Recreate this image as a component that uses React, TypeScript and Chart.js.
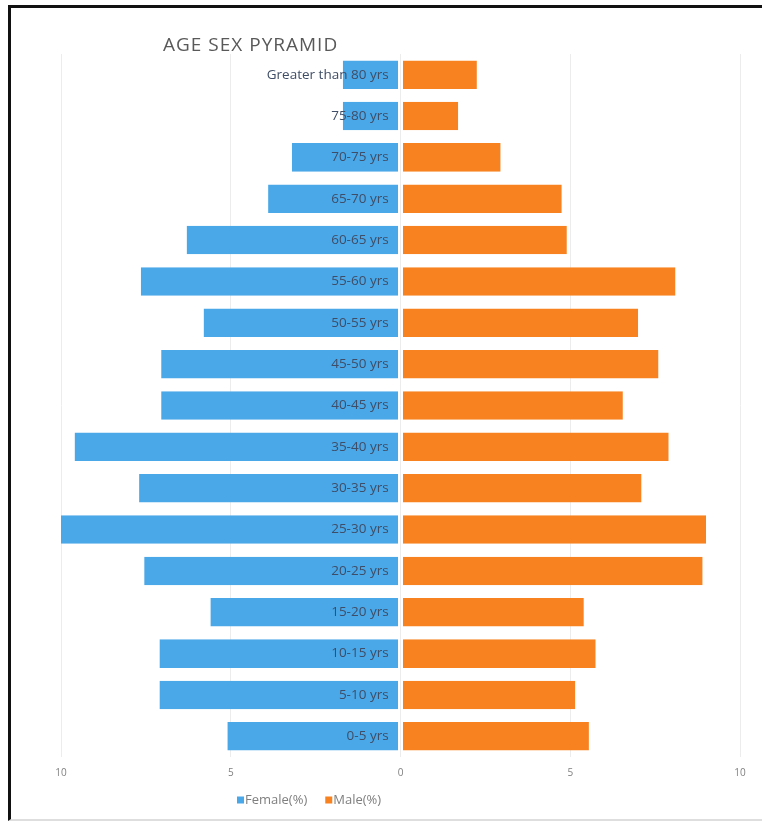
import React, { useEffect, useRef } from "react";
import { Chart, registerables } from "chart.js";

Chart.register(...registerables);

// Age groups, youngest first (drawn bottom to top)
const ageGroups: string[] = [
  "0-5 yrs",
  "5-10 yrs",
  "10-15 yrs",
  "15-20 yrs",
  "20-25 yrs",
  "25-30 yrs",
  "30-35 yrs",
  "35-40 yrs",
  "40-45 yrs",
  "45-50 yrs",
  "50-55 yrs",
  "55-60 yrs",
  "60-65 yrs",
  "65-70 yrs",
  "70-75 yrs",
  "75-80 yrs",
  "Greater than 80 yrs",
];

// Share of population per age group, in percent
const femalePct: number[] = [5.1, 7.1, 7.1, 5.6, 7.55, 10.0, 7.7, 9.6, 7.05, 7.05, 5.8, 7.65, 6.3, 3.9, 3.2, 1.7, 1.7];
const malePct: number[] = [5.55, 5.15, 5.75, 5.4, 8.9, 9.0, 7.1, 7.9, 6.55, 7.6, 7.0, 8.1, 4.9, 4.75, 2.95, 1.7, 2.25];

// Horizontal axis ticks (shown as absolute values on both sides)
const axisMin = -10;
const axisMax = 10;
const axisStep = 5;

const chartTitle = "AGE SEX PYRAMID";
const femaleLabel = "Female(%)";
const maleLabel = "Male(%)";

const femaleColor = "#4aa8e8";
const maleColor = "#f7821f";

const titlePlugin = {
  id: "pyramidTitle",
  afterDraw(chart: Chart) {
    const { ctx } = chart;
    ctx.save();
    ctx.font = '19px "Open Sans", sans-serif';
    (ctx as any).letterSpacing = "1px";
    ctx.fillStyle = "#595959";
    ctx.textBaseline = "middle";
    ctx.textAlign = "left";
    ctx.fillText(chartTitle, 163, 46);
    ctx.restore();
  },
};

const legendPlugin = {
  id: "pyramidLegend",
  afterDraw(chart: Chart) {
    const { ctx } = chart;
    ctx.save();
    ctx.font = '13px "Open Sans", sans-serif';
    ctx.textBaseline = "middle";
    ctx.textAlign = "left";
    const y = 800;
    let x = 237;
    chart.data.datasets.forEach((ds) => {
      ctx.fillStyle = ds.backgroundColor as string;
      ctx.fillRect(x, y - 3.5, 7, 7);
      ctx.fillStyle = "#7f7f7f";
      const label = ds.label as string;
      ctx.fillText(label, x + 8, y);
      x += 8 + ctx.measureText(label).width + 18;
    });
    ctx.restore();
  },
};

export default function App() {
  const canvasRef = useRef<HTMLCanvasElement | null>(null);

  useEffect(() => {
    if (!canvasRef.current) return;
    const chart = new Chart(canvasRef.current, {
      type: "bar",
      data: {
        labels: ageGroups,
        datasets: [
          {
            label: femaleLabel,
            data: femalePct.map((v) => -v),
            backgroundColor: femaleColor,
            // thin white edge on the centre side leaves a gap between the halves
            borderColor: "#ffffff",
            borderWidth: { left: 0, right: 2, top: 0, bottom: 0 },
            borderSkipped: false,
            barPercentage: 0.69,
            categoryPercentage: 1,
          },
          {
            label: maleLabel,
            data: malePct,
            backgroundColor: maleColor,
            borderColor: "#ffffff",
            borderWidth: { left: 2, right: 0, top: 0, bottom: 0 },
            borderSkipped: false,
            barPercentage: 0.69,
            categoryPercentage: 1,
          },
        ],
      },
      plugins: [titlePlugin, legendPlugin],
      options: {
        indexAxis: "y",
        responsive: false,
        animation: false,
        layout: { padding: { left: 61, right: 22, top: 54, bottom: 32 } },
        plugins: {
          legend: { display: false },
          title: { display: false },
          tooltip: { enabled: false },
        },
        scales: {
          x: {
            stacked: true,
            min: axisMin,
            max: axisMax,
            ticks: {
              stepSize: axisStep,
              color: "#7f7f7f",
              font: { family: '"Open Sans", sans-serif', size: 10 },
              padding: 10,
              callback: (v) => String(Math.abs(Number(v))),
            },
            grid: { color: "#ececec", drawTicks: false },
            border: { display: false },
          },
          y: {
            stacked: true,
            reverse: true,
            // category labels sit just left of the centre line, over the female bars
            position: { x: -0.35 },
            ticks: {
              z: 1,
              color: "#3f4d66",
              font: { family: '"Open Sans", sans-serif', size: 13.5 },
            },
            grid: { display: false, drawTicks: false },
            border: { display: false },
          },
        },
      },
    });
    return () => chart.destroy();
  }, []);

  return (
    <div style={{ position: "fixed", left: 0, top: 0, width: 762, height: 821, background: "#ffffff", overflow: "hidden" }}>
      <canvas ref={canvasRef} width={762} height={821} style={{ position: "absolute", left: 0, top: 0 }} />
      <div
        style={{
          position: "absolute",
          left: 8,
          top: 5,
          width: 780,
          height: 811,
          borderTop: "3px solid #111",
          borderLeft: "3px solid #111",
          borderBottom: "2px solid #dedede",
          pointerEvents: "none",
        }}
      />
    </div>
  );
}
